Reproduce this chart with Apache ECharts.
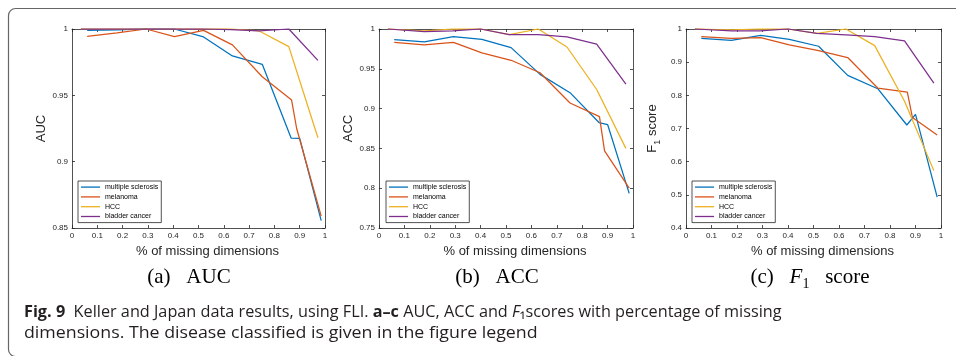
<!DOCTYPE html>
<html><head><meta charset="utf-8">
<script src="https://cdn.jsdelivr.net/npm/echarts@6/dist/echarts.min.js"></script>
<style>html,body{margin:0;padding:0;background:#fff}#c{width:956px;height:356px}</style>
</head><body><div id="c"></div>
<script>
// ---- data ----
const seriesNames = ['multiple sclerosis', 'melanoma', 'HCC', 'bladder cancer'];
const xMS  = [0.06, 0.178, 0.293, 0.405, 0.52, 0.634, 0.752, 0.866, 0.9, 0.985];
const xMel = [0.06, 0.178, 0.293, 0.405, 0.52, 0.634, 0.752, 0.868, 0.888, 0.985];
const xHP  = [0.035, 0.178, 0.29, 0.4, 0.513, 0.627, 0.74, 0.857, 0.972];

const aucMS  = [0.999, 0.9993, 1.0, 1.0, 0.994, 0.9797, 0.9734, 0.9178, 0.9175, 0.8556];
const aucMel = [0.9945, 0.997, 1.0, 0.9942, 0.999, 0.988, 0.964, 0.9464, 0.925, 0.859];
const aucHCC = [1.0, 1.0, 1.0, 1.0, 1.0, 1.0, 0.9985, 0.9867, 0.918];
const aucBC  = [1.0, 1.0, 1.0, 1.0, 1.0, 0.9995, 0.9985, 1.0, 0.9764];

const accMS  = [0.9866, 0.9837, 0.9904, 0.987, 0.9766, 0.943, 0.920, 0.8825, 0.880, 0.7935];
const accMel = [0.9833, 0.980, 0.9833, 0.970, 0.9607, 0.945, 0.907, 0.890, 0.847, 0.80];
const accHCC = [1.0, 0.9975, 1.0, 1.0, 0.993, 1.0, 0.9774, 0.924, 0.85];
const accBC  = [1.0, 0.9967, 0.9975, 1.0, 0.993, 0.993, 0.990, 0.981, 0.9306];

const f1MS  = [0.972, 0.966, 0.981, 0.969, 0.948, 0.860, 0.820, 0.7106, 0.7425, 0.493];
const f1Mel = [0.977, 0.972, 0.974, 0.952, 0.935, 0.914, 0.822, 0.810, 0.733, 0.6806];
const f1HCC = [1.0, 0.997, 1.0, 1.0, 0.987, 1.0, 0.95, 0.782, 0.573];
const f1BC  = [1.0, 0.994, 0.994, 1.0, 0.987, 0.982, 0.977, 0.964, 0.837];

const xRange = [0, 1, 0.1];
const aucRange = [0.85, 1, 0.05];
const accRange = [0.75, 1, 0.05];
const f1Range = [0.4, 1, 0.1];

// ---- layout / style ----
const colors = ['#0072BD', '#D95319', '#EDB120', '#7E2F8E'];
const AX = '#262626';
const SANS = 'Liberation Sans, Arial, sans-serif';
const SERIF = 'Liberation Serif, Times New Roman, serif';

const panels = [
  {left: 72, width: 253, range: aucRange, yName: 'AUC', legendLeft: 78,
   xs: [xMS, xMel, xHP, xHP], ys: [aucMS, aucMel, aucHCC, aucBC]},
  {left: 379, width: 254, range: accRange, yName: 'ACC', legendLeft: 386,
   xs: [xMS, xMel, xHP, xHP], ys: [accMS, accMel, accHCC, accBC]},
  {left: 686, width: 255, range: f1Range, yName: '{f|F}{s|1}{f| score}', legendLeft: 692,
   xs: [xMS, xMel, xHP, xHP], ys: [f1MS, f1Mel, f1HCC, f1BC]}
];

const grids = [], xAxes = [], yAxes = [], series = [], legends = [];
const lineS = {color: AX, width: 0.8};
panels.forEach((p, i) => {
  grids.push({left: p.left, top: 29, width: p.width, height: 199, outerBoundsMode: 'none', containLabel: false});
  const common = {gridIndex: i, type: 'value', splitLine: {show: false},
    axisLine: {show: true, onZero: false, lineStyle: lineS},
    axisTick: {show: true, inside: true, length: 3, lineStyle: lineS}};
  xAxes.push(Object.assign({}, common, {
    position: 'bottom', min: xRange[0], max: xRange[1], interval: xRange[2],
    axisLabel: {fontSize: 8, color: AX, margin: 4, fontFamily: SANS},
    name: '% of missing dimensions', nameLocation: 'middle', nameGap: 17,
    nameTextStyle: {fontSize: 13, color: AX, fontFamily: SANS, padding: [0, 0, 0, 18]}
  }));
  xAxes.push(Object.assign({}, common, {
    position: 'top', min: xRange[0], max: xRange[1], interval: xRange[2],
    axisLabel: {show: false}
  }));
  yAxes.push(Object.assign({}, common, {
    position: 'left', min: p.range[0], max: p.range[1], interval: p.range[2],
    axisLabel: {fontSize: 8, color: AX, margin: 4, fontFamily: SANS},
    name: p.yName, nameLocation: 'middle', nameGap: 24, nameRotate: 90,
    nameTextStyle: {fontSize: 13, color: AX, fontFamily: SANS,
      rich: {f: {fontSize: 13, color: AX, fontFamily: SANS, padding: [0, 0, 3, 0]},
             s: {fontSize: 9, color: AX, fontFamily: SANS, verticalAlign: 'bottom'}}}
  }));
  yAxes.push(Object.assign({}, common, {
    position: 'right', min: p.range[0], max: p.range[1], interval: p.range[2],
    axisLabel: {show: false}
  }));
  seriesNames.forEach((nm, j) => {
    series.push({
      type: 'line', name: nm, xAxisIndex: 2 * i, yAxisIndex: 2 * i,
      data: p.xs[j].map((x, k) => [x, p.ys[j][k]]),
      symbol: 'none', showSymbol: false, clip: false, silent: true,
      lineStyle: {color: colors[j], width: 1.25}, itemStyle: {color: colors[j]},
      z: 2 + j
    });
  });
  legends.push({
    data: seriesNames, left: p.legendLeft, top: 181, orient: 'vertical',
    backgroundColor: '#fff', borderColor: AX, borderWidth: 0.8,
    padding: [1.5, 3, 1.5, 3], itemGap: 0.6, itemWidth: 19, itemHeight: 1.3,
    icon: 'rect', selectedMode: false,
    textStyle: {fontSize: 7, color: '#000', fontFamily: SANS, lineHeight: 9.2}
  });
});

const capBase = {fontSize: 16, fontFamily: 'Open Sans, Noto Sans, sans-serif', fill: '#231f20'};
const subBase = {fontSize: 21, fontFamily: SERIF, fill: '#000'};

const graphic = [
  {type: 'rect', shape: {x: 8.5, y: 8.5, width: 1000, height: 348, r: 7},
   style: {fill: 'none', stroke: '#666', lineWidth: 1.2}, silent: true},
  {type: 'text', x: 189, y: 277, style: Object.assign({}, subBase, {
    text: '(a)\u2002 AUC', textAlign: 'center', textVerticalAlign: 'middle'})},
  {type: 'text', x: 497, y: 277, style: Object.assign({}, subBase, {
    text: '(b)\u2002 ACC', textAlign: 'center', textVerticalAlign: 'middle'})},
  {type: 'text', x: 810, y: 279, style: Object.assign({}, subBase, {
    text: '{n|(c)\u2002 }{i|F}{s|1}{n|\u2002 score}', textAlign: 'center', textVerticalAlign: 'middle',
    rich: {
      n: Object.assign({}, subBase, {padding: [0, 0, 4, 0]}),
      i: Object.assign({}, subBase, {fontStyle: 'italic', padding: [0, 0, 4, 0]}),
      s: Object.assign({}, subBase, {fontSize: 14, verticalAlign: 'bottom'})
    }})},
  {type: 'text', x: 24, y: 312, scaleX: 1.015, style: Object.assign({}, capBase, {
    text: '{b|Fig. 9}  Keller and Japan data results, using FLI. {b|a\u2013c} AUC, ACC and {i|F}\u2081scores with percentage of missing',
    textAlign: 'left', textVerticalAlign: 'middle',
    rich: {
      b: Object.assign({}, capBase, {fontWeight: 'bold'}),
      i: Object.assign({}, capBase, {fontStyle: 'italic'})
    }})},
  {type: 'text', x: 24, y: 333, scaleX: 1.11, style: Object.assign({}, capBase, {
    text: 'dimensions. The disease classified is given in the figure legend',
    textAlign: 'left', textVerticalAlign: 'middle'})}
];

const chart = echarts.init(document.getElementById('c'), null, {renderer: 'canvas', width: 956, height: 356});
chart.setOption({
  animation: false,
  backgroundColor: '#fff',
  grid: grids, xAxis: xAxes, yAxis: yAxes, series: series, legend: legends, graphic: graphic
});
</script></body></html>
